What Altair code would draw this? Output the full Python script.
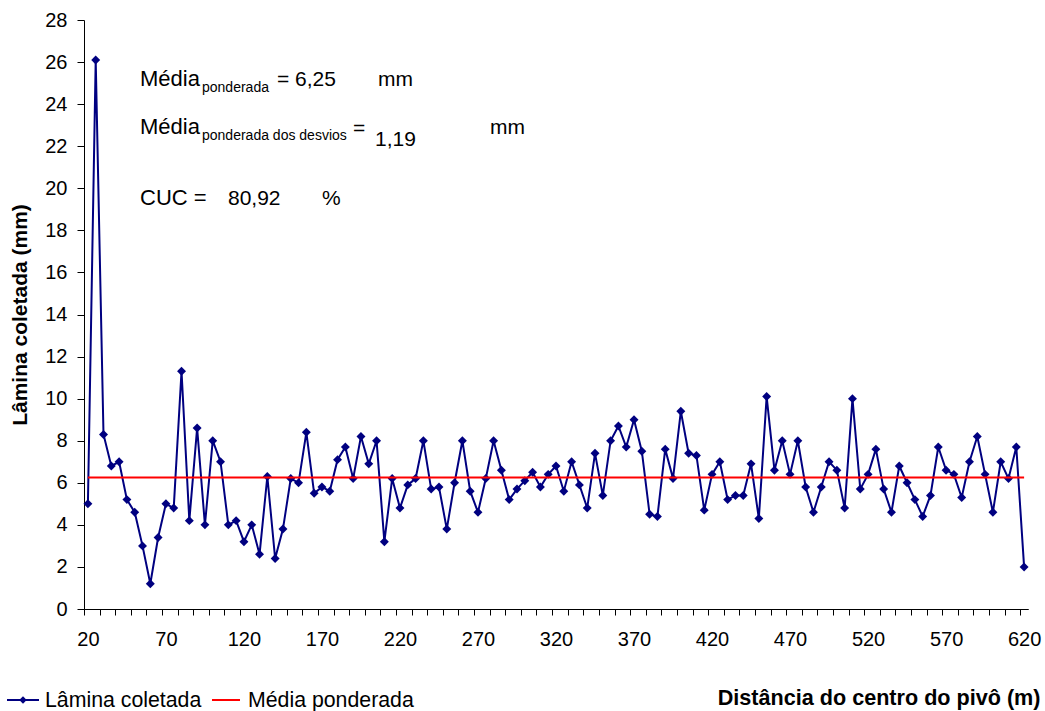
import altair as alt
import pandas as pd

# Collection points along the pivot lateral (m)
DISTANCIAS = list(range(20, 621, 5))

# Depth of water collected at each point (mm)
LAMINA = [
    5.0, 26.1, 8.3, 6.8, 7.0, 5.2, 4.6, 3.0, 1.2, 3.4,
    5.0, 4.8, 11.3, 4.2, 8.6, 4.0, 8.0, 7.0, 4.0, 4.2,
    3.2, 4.0, 2.6, 6.3, 2.4, 3.8, 6.2, 6.0, 8.4, 5.5,
    5.8, 5.6, 7.1, 7.7, 6.2, 8.2, 6.9, 8.0, 3.2, 6.2,
    4.8, 5.9, 6.2, 8.0, 5.7, 5.8, 3.8, 6.0, 8.0, 5.6,
    4.6, 6.2, 8.0, 6.6, 5.2, 5.7, 6.1, 6.5, 5.8, 6.4,
    6.8, 5.6, 7.0, 5.9, 4.8, 7.4, 5.4, 8.0, 8.7, 7.7,
    9.0, 7.5, 4.5, 4.4, 7.6, 6.2, 9.4, 7.4, 7.3, 4.7,
    6.4, 7.0, 5.2, 5.4, 5.4, 6.9, 4.3, 10.1, 6.6, 8.0,
    6.4, 8.0, 5.8, 4.6, 5.8, 7.0, 6.6, 4.8, 10.0, 5.7,
    6.4, 7.6, 5.7, 4.6, 6.8, 6.0, 5.2, 4.4, 5.4, 7.7,
    6.6, 6.4, 5.3, 7.0, 8.2, 6.4, 4.6, 7.0, 6.2, 7.7, 2.0,
]

# Summary statistics
MEDIA_PONDERADA = 6.25
MEDIA_DESVIOS = 1.19
CUC = 80.92

# Axis labels
X_LABELS = list(range(20, 621, 50))
Y_TICKS = list(range(0, 29, 2))
# tick marks sit between categories, one every two points
X_TICKS = [17.5 + 10 * k for k in range(61)]

FONT = "Liberation Sans"
NAVY = "#000080"
RED = "#FF0000"

PLOT_W, PLOT_H = 944, 589
LEFT, TOP = 84, 20
BOTTOM_Y = TOP + PLOT_H


def br(v):
    return f"{v:.2f}".replace(".", ",")


dados = pd.DataFrame({
    "dist": DISTANCIAS,
    "lamina": LAMINA,
    "media": [MEDIA_PONDERADA] * len(DISTANCIAS),
})

x_scale = alt.Scale(domain=[17.5, 622.5], nice=False, zero=False)
y_scale = alt.Scale(domain=[0, 28], nice=False)

y_axis = alt.Axis(
    values=Y_TICKS, title="Lâmina coletada (mm)", tickSize=7, labelPadding=10,
    titleFontSize=21, titleFontWeight="bold", titleFont=FONT,
    titleX=-58, titleBaseline="alphabetic", grid=False,
)

# Blue series: line with diamond markers, carries the tick-only x axis
serie = alt.Chart(dados).mark_line(
    color=NAVY, strokeWidth=2,
    point=alt.OverlayMarkDef(shape="diamond", filled=True, size=80, color=NAVY),
).encode(
    x=alt.X("dist:Q", scale=x_scale, axis=alt.Axis(
        values=X_TICKS, labels=False, tickSize=6, title=None,
        grid=False, orient="bottom")),
    y=alt.Y("lamina:Q", scale=y_scale, axis=y_axis),
)

# Red weighted-mean line, carries the labelled x axis
media = alt.Chart(dados).mark_line(color=RED, strokeWidth=2).encode(
    x=alt.X("dist:Q", scale=x_scale, axis=alt.Axis(
        values=X_LABELS, format="d", tickSize=0, labelPadding=20,
        title="Distância do centro do pivô (m)", titleFontSize=21.6,
        titleFontWeight="bold", titleFont=FONT, titleAlign="right",
        titleX=1040 - LEFT, titleY=704 - BOTTOM_Y,
        titleBaseline="alphabetic", grid=False, orient="bottom")),
    y=alt.Y("media:Q", scale=y_scale, axis=y_axis),
)


def rotulo(texto, x, y, size=21, weight="normal", color="black"):
    return alt.Chart(alt.Data(values=[{"t": texto}])).mark_text(
        align="left", baseline="alphabetic", font=FONT, fontSize=size,
        fontWeight=weight, color=color,
    ).encode(x=alt.value(x - LEFT), y=alt.value(y - TOP), text="t:N")


anotacoes = [
    rotulo("Média", 140, 86, size=22),
    rotulo("ponderada", 202, 92, size=14),
    rotulo("= " + br(MEDIA_PONDERADA), 277, 86),
    rotulo("mm", 378, 86),
    rotulo("Média", 140, 134, size=22),
    rotulo("ponderada  dos desvios", 202, 140, size=14),
    rotulo("=", 353, 135),
    rotulo(br(MEDIA_DESVIOS), 375, 146),
    rotulo("mm", 490, 134),
    rotulo("CUC =", 140, 205, size=22),
    rotulo(br(CUC), 228, 205),
    rotulo("%", 322, 205),
]

# Legend at the bottom left
um = alt.Data(values=[{"k": 1}])
legenda = [
    alt.Chart(um).mark_rule(color=NAVY, strokeWidth=2).encode(
        x=alt.value(7 - LEFT), x2=alt.value(39 - LEFT), y=alt.value(700 - TOP)),
    alt.Chart(um).mark_point(shape="diamond", filled=True, size=55, color=NAVY,
                             opacity=1).encode(
        x=alt.value(23 - LEFT), y=alt.value(700 - TOP)),
    rotulo("Lâmina coletada", 45, 707, size=21.3),
    alt.Chart(um).mark_rule(color=RED, strokeWidth=2).encode(
        x=alt.value(212 - LEFT), x2=alt.value(240 - LEFT), y=alt.value(700 - TOP)),
    rotulo("Média ponderada", 248, 707, size=21.3),
]

chart = alt.layer(serie, media, *anotacoes, *legenda).resolve_axis(
    x="independent"
).properties(
    width=PLOT_W, height=PLOT_H,
    autosize=alt.AutoSizeParams(type="none"),
    padding={"left": LEFT, "top": TOP, "right": 1045 - LEFT - PLOT_W,
             "bottom": 711 - TOP - PLOT_H},
    background="white",
).configure_view(stroke=None).configure_axis(
    domainColor="black", tickColor="black", labelColor="black",
    titleColor="black", labelFont=FONT, labelFontSize=20, domainWidth=1,
    tickWidth=1,
)

chart.save("out.html", embed_options={"renderer": "svg", "actions": False})
